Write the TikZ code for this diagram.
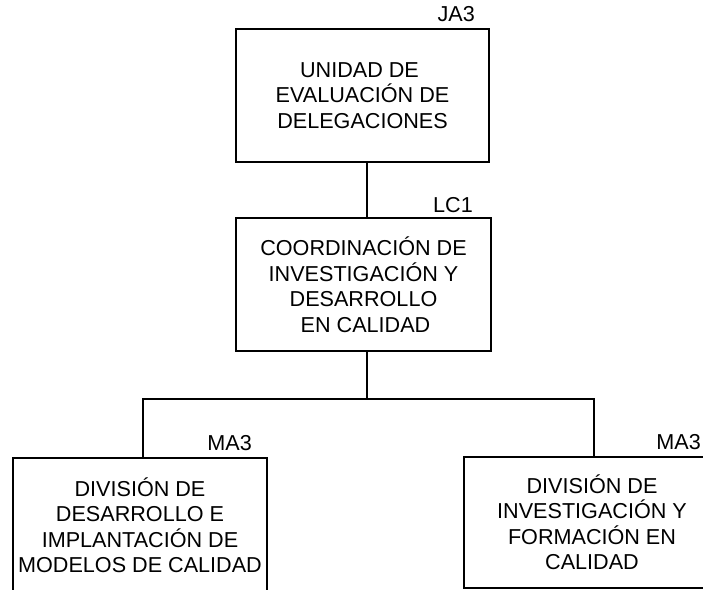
\documentclass[tikz,border=0pt]{standalone}
\usepackage{fontspec}
\setmainfont{Liberation Sans}
\begin{document}
\begin{tikzpicture}[x=1pt,y=-1pt,
  unit/.style={draw=black, line width=2pt, align=center, inner sep=0pt,
    font=\fontsize{21.6}{25.5}\selectfont},
  tag/.style={inner sep=0pt, font=\fontsize{21.6}{25.5}\selectfont},
  link/.style={draw=black, line width=2pt}]
\useasboundingbox (0,0) rectangle (703,589);
\clip (0,0) rectangle (703,589);
\node[unit, minimum width=253pt, minimum height=133pt] (top) at (362.5,95.5)
  {UNIDAD DE\hspace*{6pt}\\EVALUACIÓN DE\\DELEGACIONES};
\node[unit, minimum width=255pt, minimum height=133pt] (mid) at (363.5,284.5)
  {COORDINACIÓN DE\\INVESTIGACIÓN Y\hspace*{9pt}\\DESARROLLO\\\hspace*{4pt}EN CALIDAD};
\node[unit, minimum width=254pt, minimum height=134pt] (L) at (140,525)
  {DIVISIÓN DE\\DESARROLLO E\\IMPLANTACIÓN DE\\MODELOS DE CALIDAD};
\node[unit, minimum width=256pt, minimum height=131pt] (R) at (592,522)
  {DIVISIÓN DE\\INVESTIGACIÓN Y\\FORMACIÓN EN\\CALIDAD};
\node[tag, anchor=east] (tJA) at (475,14) {JA3};
\node[tag, anchor=east] (tLC) at (473,205) {LC1};
\node[tag, anchor=east] (tMA1) at (252,443) {MA3};
\node[tag, anchor=east] (tMA2) at (701,442) {MA3};
\coordinate (ax) at (367,0);
\coordinate (bl) at (143,399);
\coordinate (bc) at (367,399);
\coordinate (br) at (594,399);
\draw[link] (top.south -| ax) -- (mid.north -| ax);
\draw[link] (mid.south -| bc) -- (bc);
\draw[link] (L.north -| bl) -- (bl) -- (br) -- (R.north -| br);
\end{tikzpicture}
\end{document}
